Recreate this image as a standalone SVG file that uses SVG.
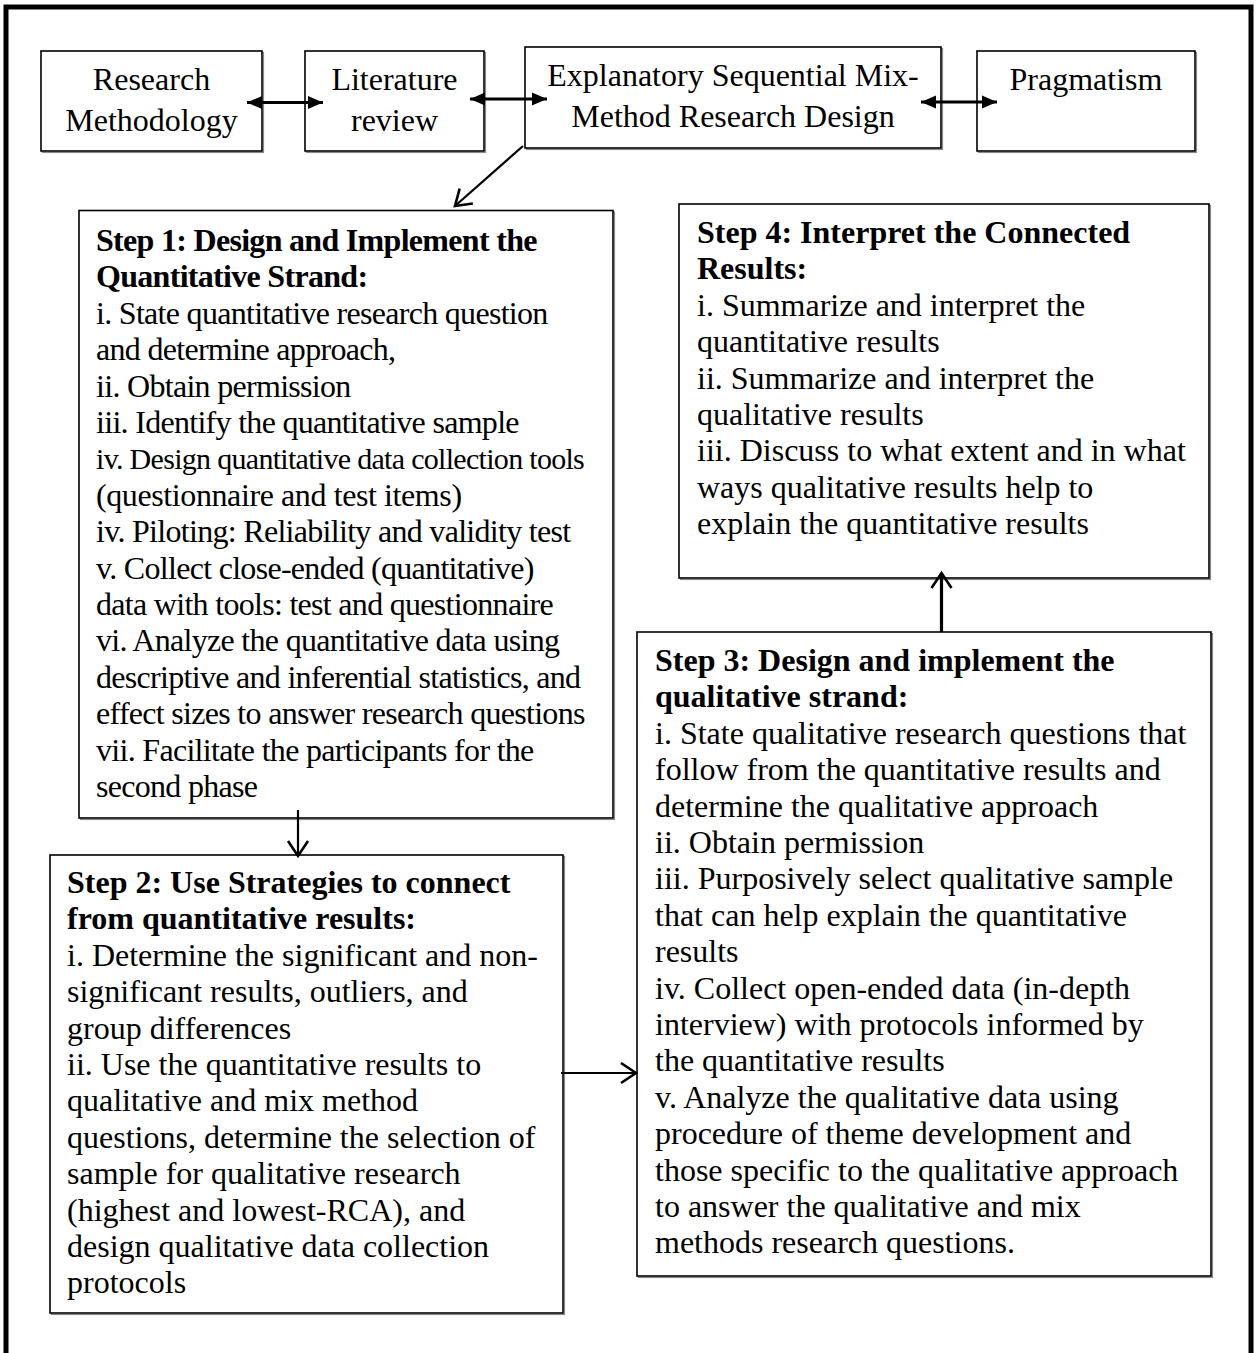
<svg xmlns="http://www.w3.org/2000/svg" width="1257" height="1353" viewBox="0 0 1257 1353">
  <style>
    .box { fill: #ffffff; stroke: #000000; stroke-width: 1.6; }
    .shadow { fill: none; stroke: #8a8a8a; stroke-width: 1.2; }
    .frame { fill: none; stroke: #000000; stroke-width: 5; }
    .head { font-family: "Liberation Serif", "Times New Roman", serif; font-size: 32px; fill: #000000; text-anchor: middle; }
    .t { font-family: "Liberation Serif", "Times New Roman", serif; font-size: 32px; fill: #000000; }
    .tight { letter-spacing: -0.7px; }
    .b { font-weight: bold; }
    .conn { fill: none; stroke: #000000; stroke-width: 2.2; }
    .thick { stroke-width: 3.2; }
  </style>
  <defs>
    <marker id="solid" markerUnits="userSpaceOnUse" markerWidth="16" markerHeight="14" refX="15" refY="6.5" orient="auto-start-reverse" overflow="visible">
      <path d="M0,0 L15,6.5 L0,13 Z" fill="#000000"/>
    </marker>
    <marker id="open" markerUnits="userSpaceOnUse" markerWidth="18" markerHeight="22" refX="15" refY="10" orient="auto" overflow="visible">
      <path d="M0,0 L15,10 L0,20" fill="none" stroke="#000000" stroke-width="2.6"/>
    </marker>
  </defs>

  <rect width="1257" height="1353" fill="#ffffff"/>
  <!-- outer frame, runs off the lower edge -->
  <rect class="frame" x="6" y="7" width="1245" height="1370"/>

  <!-- top row -->
  <g id="research-methodology">
    <rect class="shadow" x="42.5" y="52.5" width="221" height="100"/>
    <rect class="box" x="41" y="51" width="221" height="100"/>
    <text class="head" x="151.5" y="90">Research</text>
    <text class="head" x="151.5" y="131">Methodology</text>
  </g>
  <g id="literature-review">
    <rect class="shadow" x="306.5" y="52.5" width="179" height="100"/>
    <rect class="box" x="305" y="51" width="179" height="100"/>
    <text class="head" x="394.5" y="90">Literature</text>
    <text class="head" x="394.5" y="131">review</text>
  </g>
  <g id="sequential-design">
    <rect class="shadow" x="526.5" y="48.5" width="416" height="101"/>
    <rect class="box" x="525" y="47" width="416" height="101"/>
    <text class="head" x="733" y="86">Explanatory Sequential Mix-</text>
    <text class="head" x="733" y="127">Method Research Design</text>
  </g>
  <g id="pragmatism">
    <rect class="shadow" x="978.5" y="52.5" width="218" height="100"/>
    <rect class="box" x="977" y="51" width="218" height="100"/>
    <text class="head" x="1086" y="90">Pragmatism</text>
  </g>

  <!-- step 1 -->
  <g id="step1">
    <rect class="shadow" x="80.5" y="212" width="534" height="607.5"/>
    <rect class="box" x="79" y="210.5" width="534" height="607.5"/>
    <text class="t b tight" x="96" y="251">Step 1: Design and Implement the</text>
    <text class="t b tight" x="96" y="287.4">Quantitative Strand:</text>
    <text class="t tight" x="96" y="323.8">i. State quantitative research question</text>
    <text class="t tight" x="96" y="360.2">and determine approach,</text>
    <text class="t tight" x="96" y="396.6">ii. Obtain permission</text>
    <text class="t tight" x="96" y="433">iii. Identify the quantitative sample</text>
    <text class="t tight" x="96" y="469.4" style="font-size:30px">iv. Design quantitative data collection tools</text>
    <text class="t" x="96" y="505.8" style="letter-spacing:-0.4px">(questionnaire and test items)</text>
    <text class="t tight" x="96" y="542.2">iv. Piloting: Reliability and validity test</text>
    <text class="t tight" x="96" y="578.6">v. Collect close-ended (quantitative)</text>
    <text class="t tight" x="96" y="615">data with tools: test and questionnaire</text>
    <text class="t tight" x="96" y="651.4">vi. Analyze the quantitative data using</text>
    <text class="t tight" x="96" y="687.8">descriptive and inferential statistics, and</text>
    <text class="t tight" x="96" y="724.2">effect sizes to answer research questions</text>
    <text class="t tight" x="96" y="760.6">vii. Facilitate the participants for the</text>
    <text class="t tight" x="96" y="797">second phase</text>
  </g>

  <!-- step 2 -->
  <g id="step2">
    <rect class="shadow" x="51.5" y="856.5" width="513" height="458"/>
    <rect class="box" x="50" y="855" width="513" height="458"/>
    <text class="t b" x="67" y="893">Step 2: Use Strategies to connect</text>
    <text class="t b" x="67" y="929.4">from quantitative results:</text>
    <text class="t" x="67" y="965.8">i. Determine the significant and non-</text>
    <text class="t" x="67" y="1002.2">significant results, outliers, and</text>
    <text class="t" x="67" y="1038.6">group differences</text>
    <text class="t" x="67" y="1075">ii. Use the quantitative results to</text>
    <text class="t" x="67" y="1111.4">qualitative and mix method</text>
    <text class="t" x="67" y="1147.8">questions, determine the selection of</text>
    <text class="t" x="67" y="1184.2">sample for qualitative research</text>
    <text class="t" x="67" y="1220.6">(highest and lowest-RCA), and</text>
    <text class="t" x="67" y="1257">design qualitative data collection</text>
    <text class="t" x="67" y="1293.4">protocols</text>
  </g>

  <!-- step 3 -->
  <g id="step3">
    <rect class="shadow" x="638.5" y="633.5" width="574" height="644"/>
    <rect class="box" x="637" y="632" width="574" height="644"/>
    <text class="t b" x="655" y="671">Step 3: Design and implement the</text>
    <text class="t b" x="655" y="707.4">qualitative strand:</text>
    <text class="t" x="655" y="743.8">i. State qualitative research questions that</text>
    <text class="t" x="655" y="780.2">follow from the quantitative results and</text>
    <text class="t" x="655" y="816.6">determine the qualitative approach</text>
    <text class="t" x="655" y="853">ii. Obtain permission</text>
    <text class="t" x="655" y="889.4">iii. Purposively select qualitative sample</text>
    <text class="t" x="655" y="925.8">that can help explain the quantitative</text>
    <text class="t" x="655" y="962.2">results</text>
    <text class="t" x="655" y="998.6">iv. Collect open-ended data (in-depth</text>
    <text class="t" x="655" y="1035">interview) with protocols informed by</text>
    <text class="t" x="655" y="1071.4">the quantitative results</text>
    <text class="t" x="655" y="1107.8">v. Analyze the qualitative data using</text>
    <text class="t" x="655" y="1144.2">procedure of theme development and</text>
    <text class="t" x="655" y="1180.6">those specific to the qualitative approach</text>
    <text class="t" x="655" y="1217">to answer the qualitative and mix</text>
    <text class="t" x="655" y="1253.4">methods research questions.</text>
  </g>

  <!-- step 4 -->
  <g id="step4">
    <rect class="shadow" x="680.5" y="205.5" width="530" height="374"/>
    <rect class="box" x="679" y="204" width="530" height="374"/>
    <text class="t b" x="697" y="243">Step 4: Interpret the Connected</text>
    <text class="t b" x="697" y="279.4">Results:</text>
    <text class="t" x="697" y="315.8">i. Summarize and interpret the</text>
    <text class="t" x="697" y="352.2">quantitative results</text>
    <text class="t" x="697" y="388.6">ii. Summarize and interpret the</text>
    <text class="t" x="697" y="425">qualitative results</text>
    <text class="t" x="697" y="461.4">iii. Discuss to what extent and in what</text>
    <text class="t" x="697" y="497.8">ways qualitative results help to</text>
    <text class="t" x="697" y="534.2">explain the quantitative results</text>
  </g>

  <!-- connectors -->
  <g id="connectors">
    <line class="conn thick" x1="247" y1="102.5" x2="323" y2="102.5" marker-start="url(#solid)" marker-end="url(#solid)"/>
    <line class="conn thick" x1="470" y1="99" x2="547" y2="99" marker-start="url(#solid)" marker-end="url(#solid)"/>
    <line class="conn thick" x1="921" y1="102" x2="997" y2="102" marker-start="url(#solid)" marker-end="url(#solid)"/>
    <line class="conn" x1="523" y1="146" x2="455" y2="206" marker-end="url(#open)"/>
    <line class="conn" x1="298" y1="810" x2="298" y2="856" marker-end="url(#open)"/>
    <line class="conn" x1="561" y1="1073" x2="636" y2="1073" marker-end="url(#open)"/>
    <line class="conn thick" x1="941.5" y1="632" x2="941.5" y2="573" marker-end="url(#open)"/>
  </g>
</svg>
